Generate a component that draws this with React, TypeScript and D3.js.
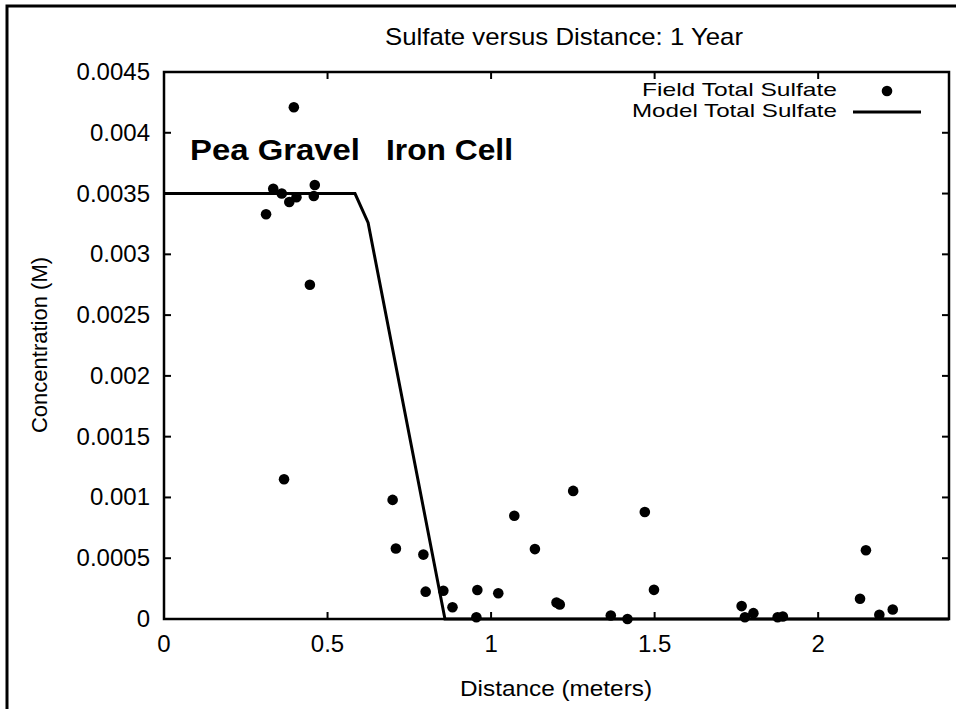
import React from "react";
import * as d3 from "d3";

const fieldX = [0.312, 0.334, 0.360, 0.383, 0.405, 0.397, 0.461, 0.458, 0.446, 0.367, 0.699, 0.709, 0.793, 0.800, 0.854, 0.882, 0.955, 0.958, 1.022, 1.071, 1.134, 1.200, 1.210, 1.251, 1.366, 1.417, 1.470, 1.498, 1.766, 1.776, 1.802, 1.876, 1.892, 2.128, 2.146, 2.187, 2.228];
const fieldY = [0.00333, 0.00354, 0.00350, 0.00343, 0.00347, 0.00421, 0.00357, 0.00348, 0.00275, 0.00115, 0.00098, 0.00058, 0.00053, 0.000225, 0.000233, 0.0000965, 0.000014, 0.000239, 0.000212, 0.00085, 0.000575, 0.000135, 0.00012, 0.001054, 0.000029, 0.0, 0.00088, 0.00024, 0.000106, 0.000015, 0.000048, 0.000015, 0.00002, 0.000166, 0.000565, 0.000035, 0.000078];

const modelX = [0, 0.584, 0.624, 0.859, 2.4];
const modelY = [0.0035, 0.0035, 0.00326, 0, 0];

const xTicks = [0, 0.5, 1, 1.5, 2];
const xTickLabels = ["0", "0.5", "1", "1.5", "2"];
const yTicks = [0, 0.0005, 0.001, 0.0015, 0.002, 0.0025, 0.003, 0.0035, 0.004, 0.0045];
const yTickLabels = ["0", "0.0005", "0.001", "0.0015", "0.002", "0.0025", "0.003", "0.0035", "0.004", "0.0045"];

const title = "Sulfate versus Distance: 1 Year";
const xTitle = "Distance (meters)";
const yTitle = "Concentration (M)";
const legendLabels = ["Field Total Sulfate", "Model Total Sulfate"];
const regionLabels = ["Pea Gravel", "Iron Cell"];

export default function App() {
  const W = 956, H = 709;
  const L = 164, R = 949, T = 72, B = 619;
  const x = d3.scaleLinear().domain([0, 2.4]).range([L, R]);
  const y = d3.scaleLinear().domain([0, 0.0045]).range([B, T]);
  const line = d3.line<number>().x((_, i) => x(modelX[i])).y((_, i) => y(modelY[i]));
  const font = "'Liberation Sans', Arial, sans-serif";
  const tk = 7;
  return (
    <svg width={W} height={H} style={{ position: "absolute", left: 0, top: 0, background: "#fff" }} fontFamily={font}>
      <rect x={0} y={0} width={W} height={H} fill="#fff" />
      <path d={`M7,${H} L7,6 L${W},6`} fill="none" stroke="#000" strokeWidth={3} />
      <text x={564} y={45} fontSize={24} textAnchor="middle" textLength={358} lengthAdjust="spacingAndGlyphs">{title}</text>
      {yTicks.map((v, i) => (
        <g key={"y" + i}>
          <line x1={L} x2={L + tk} y1={y(v)} y2={y(v)} stroke="#000" strokeWidth={2} />
          <line x1={R} x2={R - tk} y1={y(v)} y2={y(v)} stroke="#000" strokeWidth={2} />
          <text x={150} y={y(v) + 8} fontSize={24} textAnchor="end">{yTickLabels[i]}</text>
        </g>
      ))}
      {xTicks.map((v, i) => (
        <g key={"x" + i}>
          <line x1={x(v)} x2={x(v)} y1={B} y2={B - tk} stroke="#000" strokeWidth={2} />
          <line x1={x(v)} x2={x(v)} y1={T} y2={T + tk} stroke="#000" strokeWidth={2} />
          <text x={x(v)} y={652} fontSize={24} textAnchor="middle">{xTickLabels[i]}</text>
        </g>
      ))}
      <rect x={L} y={T} width={R - L} height={B - T} fill="none" stroke="#000" strokeWidth={2.5} />
      <text x={556} y={696} fontSize={22} textAnchor="middle" textLength={192} lengthAdjust="spacingAndGlyphs">{xTitle}</text>
      <text transform={`translate(47,345) rotate(-90)`} fontSize={22} textAnchor="middle">{yTitle}</text>
      <text x={190} y={160} fontSize={30} fontWeight="bold" textLength={170} lengthAdjust="spacingAndGlyphs">{regionLabels[0]}</text>
      <text x={386} y={160} fontSize={30} fontWeight="bold" textLength={127} lengthAdjust="spacingAndGlyphs">{regionLabels[1]}</text>
      <path d={line(modelX) || ""} fill="none" stroke="#000" strokeWidth={3} />
      {fieldX.map((v, i) => (
        <circle key={"p" + i} cx={x(v)} cy={y(fieldY[i])} r={5.3} fill="#000" />
      ))}
      <text x={837} y={96} fontSize={19} textAnchor="end" textLength={195} lengthAdjust="spacingAndGlyphs">{legendLabels[0]}</text>
      <circle cx={887} cy={91} r={5.3} fill="#000" />
      <text x={837} y={117} fontSize={19} textAnchor="end" textLength={205} lengthAdjust="spacingAndGlyphs">{legendLabels[1]}</text>
      <line x1={853} x2={921} y1={112} y2={112} stroke="#000" strokeWidth={3} />
    </svg>
  );
}
